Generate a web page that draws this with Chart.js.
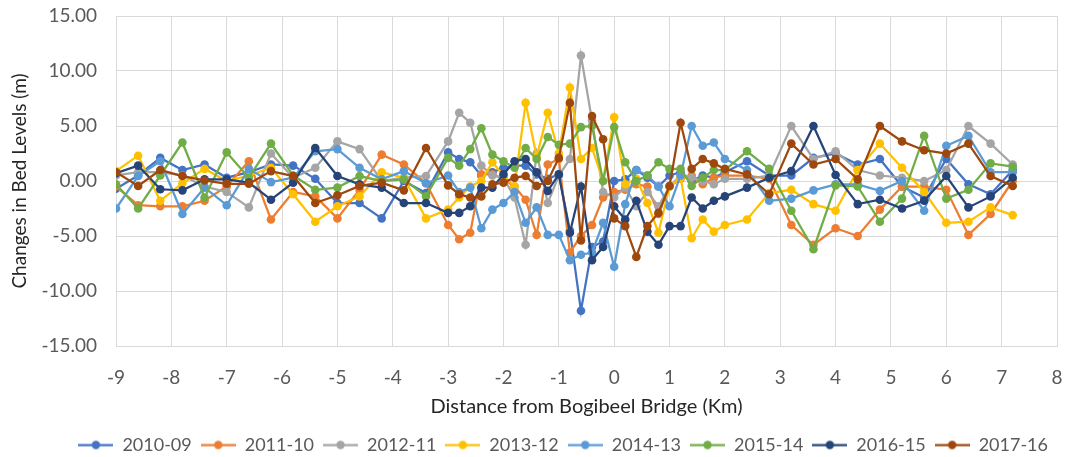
<!DOCTYPE html>
<html>
<head>
<meta charset="utf-8">
<script src="https://cdn.jsdelivr.net/npm/chart.js@4.4.1/dist/chart.umd.min.js"></script>
<style>
  html,body{margin:0;padding:0;background:#fff;}
  #wrap{width:1066px;height:457px;position:relative;}
</style>
</head>
<body>
<div id="wrap"><canvas id="chart"></canvas></div>
<script>
// distance from the bridge (km)
const distances = [-9,-8.6,-8.2,-7.8,-7.4,-7.0,-6.6,-6.2,-5.8,-5.4,-5.0,-4.6,-4.2,-3.8,-3.4,-3.0,
  -2.8,-2.6,-2.4,-2.2,-2.0,-1.8,-1.6,-1.4,-1.2,-1.0,-0.8,-0.6,-0.4,-0.2,0,0.2,0.4,0.6,0.8,1.0,1.2,1.4,1.6,1.8,2.0,
  2.4,2.8,3.2,3.6,4.0,4.4,4.8,5.2,5.6,6.0,6.4,6.8,7.2];

const yearLabels = ['2010-09','2011-10','2012-11','2013-12','2014-13','2015-14','2016-15','2017-16'];
const yearColors = ['#4472C4','#ED7D31','#A5A5A5','#FFC000','#5B9BD5','#70AD47','#264478','#9E480E'];

const s2010 = [-0.7,0.5,2.1,1.0,1.5,0.3,0.8,1.5,1.4,0.2,-2.0,-2.0,-3.4,0.0,-1.1,2.6,
  2.0,1.7,0.5,0.8,1.2,1.4,1.4,0.6,0.2,0.6,-4.5,-11.8,-6.0,-5.5,0.0,0.15,1.0,0.3,-0.5,0.5,0.8,0.0,0.5,0.3,0.8,
  1.8,0.5,0.5,2.1,2.5,1.5,2.0,-0.5,-1.5,2.0,-0.3,-1.2,1.0];
const s2011 = [-0.5,-2.2,-2.3,-2.3,-1.8,-0.5,1.8,-3.5,-1.0,-1.4,-3.4,-0.8,2.4,1.5,-0.2,-4.0,
  -5.3,-4.7,0.6,0.6,0.2,-0.5,-1.7,-4.9,1.5,2.0,-6.5,-5.0,-4.0,-1.5,-1.0,-0.8,-0.3,-0.5,-3.0,-0.5,0.2,0.5,-0.3,0.3,0.5,
  0.5,0.2,-4.0,-5.8,-4.3,-5.0,-2.6,-0.5,-0.5,-0.8,-4.9,-3.0,0.0];
const s2012 = [0.5,0.8,0.8,0.5,-0.5,-1.0,-2.4,2.5,0.3,1.2,3.6,2.9,0.0,0.3,0.45,3.6,
  6.2,5.3,1.4,0.5,0.3,-1.5,-5.8,2.5,-2.0,0.5,2.0,11.4,5.5,-1.0,-1.5,-0.6,-2.3,-1.0,-2.3,-0.5,0.5,0.3,0.0,-0.3,0.2,
  0.2,0.5,5.0,2.0,2.7,1.0,0.5,0.3,0.0,1.0,5.0,3.4,1.5];
const s2013 = [0.9,2.3,-1.8,-0.2,1.1,0.0,0.5,1.2,-1.2,-3.7,-2.3,-1.4,0.8,0.3,-3.4,-2.6,
  -1.5,-0.5,0.0,1.7,0.5,-0.5,7.1,2.2,6.2,2.5,8.5,2.0,3.0,0.0,5.8,-0.3,0.2,-2.0,-4.7,-0.5,0.3,-5.2,-3.5,-4.6,-4.0,
  -3.5,-1.1,-0.8,-2.1,-2.7,1.0,3.4,1.2,-1.0,-3.8,-3.7,-2.4,-3.1];
const s2014 = [-2.5,0.45,1.8,-3.0,-0.6,-2.2,1.1,-0.1,0.3,2.7,2.9,1.2,0.15,0.9,-0.2,0.5,
  -1.0,-0.6,-4.3,-2.6,-2.0,-1.0,-3.8,-2.4,-4.9,-4.9,-7.2,-6.7,-6.5,-3.8,-7.8,-2.1,1.0,0.5,-0.5,-2.3,0.5,5.0,3.2,3.5,2.0,
  1.0,-1.8,-1.6,-0.85,-0.3,-0.3,-0.9,0.0,-2.7,3.2,4.1,0.8,0.8];
const s2015 = [-0.3,-2.5,0.5,3.5,-1.5,2.6,0.3,3.4,0.5,-0.8,-0.6,0.45,0.0,0.15,-1.4,2.1,
  1.4,2.9,4.8,2.4,1.8,1.2,3.0,2.0,4.0,3.3,3.4,4.9,5.0,0.0,4.9,1.7,0.0,0.5,1.7,1.1,1.1,-0.45,0.3,1.0,1.0,
  2.7,1.1,-2.7,-6.2,-0.4,-0.5,-3.7,-1.6,4.1,-1.6,-0.8,1.6,1.3];
const s2016 = [0.7,1.4,-0.75,-0.85,0.15,0.15,-0.15,-1.7,-0.15,3.0,0.45,-0.3,-0.6,-2.0,-2.0,-2.9,
  -2.9,-2.3,-0.6,-0.6,0.6,1.8,2.0,0.8,-0.9,0.6,-4.7,-0.5,-7.2,-6.0,-2.3,-3.5,-1.8,-4.6,-5.8,-4.1,-4.1,-1.5,-2.5,-1.8,-1.4,
  -0.6,0.3,0.9,5.0,0.55,-2.1,-1.7,-2.5,-1.8,0.45,-2.4,-1.4,0.3];
const s2017 = [0.8,-0.45,1.0,0.45,0.05,-0.25,-0.25,0.9,0.45,-2.0,-1.3,-0.45,-0.15,-0.85,3.0,-0.4,
  -1.2,-1.5,-1.4,-0.3,-0.15,0.3,0.45,-0.45,0.0,2.1,7.1,-5.4,5.9,3.8,-3.4,-4.1,-6.9,-4.1,-2.9,-0.45,5.3,1.1,2.0,1.6,1.1,
  0.6,-1.2,3.4,1.5,2.0,0.15,5.0,3.6,2.8,2.5,3.4,0.45,-0.45];

const seriesValues = [s2010,s2011,s2012,s2013,s2014,s2015,s2016,s2017];

const yTicks = [-15,-10,-5,0,5,10,15];
const xTicks = [-9,-8,-7,-6,-5,-4,-3,-2,-1,0,1,2,3,4,5,6,7,8];

const FONT = 'Lato, "Open Sans", sans-serif';
const GRID = '#d9d9d9';

// legend marker: short line with a dot, like the spreadsheet legend
function legendMarker(color){
  const c = document.createElement('canvas');
  c.width = 35; c.height = 11;
  const g = c.getContext('2d');
  g.strokeStyle = color; g.lineWidth = 2.25;
  g.beginPath(); g.moveTo(0,5.5); g.lineTo(35,5.5); g.stroke();
  g.fillStyle = color;
  g.beginPath(); g.arc(17.5,5.5,4.2,0,Math.PI*2); g.fill();
  return c;
}

const datasets = yearLabels.map((lab,i)=>({
  label: lab,
  data: distances.map((x,j)=>({x, y: seriesValues[i][j]})),
  borderColor: yearColors[i],
  backgroundColor: yearColors[i],
  borderWidth: 2.25,
  pointRadius: 4.3,
  pointHoverRadius: 4.3,
  pointBorderWidth: 0,
  tension: 0,
  order: yearLabels.length - i   // later years painted on top
}));
const markers = yearColors.map(legendMarker);

new Chart(document.getElementById('chart'), {
  type: 'line',
  data: { datasets },
  options: {
    responsive: true,
    maintainAspectRatio: false,
    animation: false,
    layout: { padding: { left: 8, right: 9, top: 16, bottom: -7 } },
    plugins: {
      tooltip: { enabled: false },
      legend: {
        position: 'bottom',
        align: 'end',
        labels: {
          usePointStyle: true,
          pointStyleWidth: 35,
          padding: 9,
          color: '#595959',
          font: { family: FONT, size: 18 },
          sort: (a,b)=>a.datasetIndex - b.datasetIndex,
          generateLabels(chart){
            const items = Chart.defaults.plugins.legend.labels.generateLabels(chart);
            items.forEach(it=>{ it.pointStyle = markers[it.datasetIndex]; });
            return items;
          }
        }
      }
    },
    scales: {
      x: {
        type: 'linear',
        min: -9, max: 8,
        afterBuildTicks: (s)=>{ s.ticks = xTicks.map(v=>({value:v})); },
        afterFit: (s)=>{ s.height = 81; s.paddingLeft = 0; s.paddingRight = 0; },
        grid: { color: GRID, lineWidth: 1, drawTicks: false },
        border: { color: GRID },
        ticks: { color: '#595959', font: { family: FONT, size: 19 }, padding: 20, maxRotation: 0 },
        title: { display: true, text: 'Distance from Bogibeel Bridge (Km)', color: '#262626',
                 font: { family: FONT, size: 20 }, padding: { top: 0, bottom: 8 } }
      },
      y: {
        min: -15, max: 15,
        afterBuildTicks: (s)=>{ s.ticks = yTicks.map(v=>({value:v})); },
        afterFit: (s)=>{ s.width = 108; s.paddingTop = 0; s.paddingBottom = 0; },
        grid: { color: GRID, lineWidth: 1, drawTicks: false },
        border: { color: GRID },
        ticks: { color: '#595959', font: { family: FONT, size: 19 }, padding: 19,
                 callback: (v)=>Number(v).toFixed(2) },
        title: { display: true, text: 'Changes in Bed Levels (m)', color: '#262626',
                 font: { family: FONT, size: 19 }, padding: 0 }
      }
    }
  }
});
</script>
</body>
</html>
